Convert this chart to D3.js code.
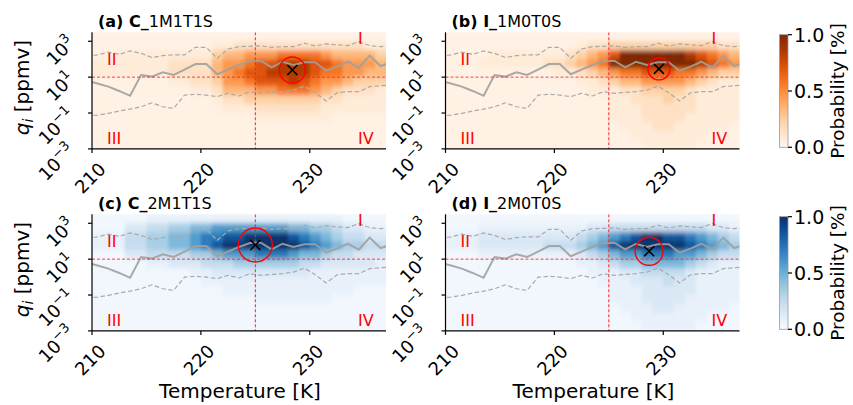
<!DOCTYPE html>
<html>
<head>
<meta charset="utf-8">
<script src="https://cdn.jsdelivr.net/npm/d3@7"></script>
<style>
  body { margin: 0; background: #fff; }
  text { font-family: "DejaVu Sans", sans-serif; }
</style>
</head>
<body>
<div id="chart"></div>
<script>
// temperature bins (K, lower edges, 1 K wide) and log10(q_i) bin edges, top to bottom
var tBins = [210,211,212,213,214,215,216,217,218,219,220,221,222,223,224,225,226,227,228,229,230,231,232,233,234,235,236];
var logQEdges = [3.5,3,2.5,2,1.5,1,0.5,0,-0.5,-1,-1.5,-2,-2.5,-3];

// probability per T column, one digit (0-9) per q row from top to bottom
var probA = [
  "0001100000000","0001100000000","0011100000000","0011100000000","0011100000000",
  "0011100000000","0011100000000","0012210000000","0012210000000","0012221000000",
  "0012221000000","0134432100000","0145554210000","0245654210000","0256764310000",
  "0257775321000","0257875321000","0268876321000","0268886321000","0268876321000",
  "0267765321000","0257654211000","0246653210000","0245542110000","0245532110000",
  "0145432110000","0134431110000"
];
var probB = [
  "0000000000000","0000000000000","0000000000000","0001000000000","0011000000000",
  "0011000000000","0011000000000","0011000000000","0011000000000","0012000000000",
  "0012100000000","0023100000000","0134210000000","0245311000000","0256421000000",
  "0379531111000","0399642111100","0399642211110","0399753222111","0399753222211",
  "0399753322211","0399653222111","0389642221111","0378531111110","0367421111100",
  "0256311111100","0245311111000"
];
var probC = [
  "0011000000000","0011000000000","0011000000000","0233200000000","0233200000000",
  "1344310000000","1344310000000","1455320000000","1455320000000","1566421000000",
  "1577431100000","1678532100000","1689632110000","1689642110000","1699642110000",
  "1699742111000","1699742111000","1699742111000","1589642111000","1578532111000",
  "1467531111000","1456421111000","1345321110000","0234321110000","0234221100000",
  "0123221100000","0123211100000"
];
var probD = [
  "0011000000000","0011000000000","0011000000000","0122100000000","0122100000000",
  "0122100000000","0122100000000","0122100000000","0122100000000","0123100000000",
  "0123100000000","0123100000000","0134210000000","0245311000000","0256421100000",
  "0368531111000","0379642111100","0389642211110","0399753222111","0399753222211",
  "0389753322211","0389653222111","0378642221111","0367531111110","0256421111100",
  "0245311111100","0134311111000"
];

// median and 5/95 percentile lines (log10 q_i) at bin centres
var lineT = [209.5,210.5,211.5,212.5,213.5,214.5,215.5,216.5,217.5,218.5,219.5,220.5,221.5,222.5,223.5,224.5,225.5,226.5,227.5,228.5,229.5,230.5,231.5,232.5,233.5,234.5,235.5,236.5,237.5];
var medLog = [0.80,0.65,0.47,0.23,-0.04,1.12,1.03,1.27,1.12,1.42,1.73,1.73,1.16,1.42,1.68,1.90,1.92,1.55,1.86,1.68,1.83,1.83,1.36,1.59,1.86,1.53,2.20,1.62,1.80];
var upLog = [2.15,2.24,2.39,2.27,2.46,2.33,2.09,2.20,2.24,2.24,2.66,2.66,2.05,2.57,2.70,2.72,2.74,2.66,2.70,2.70,2.89,2.74,2.85,2.80,2.76,2.98,2.76,2.70,2.76];
var lowLog = [-1.15,-1.12,-1.02,-0.89,-0.78,-0.65,-0.43,-0.65,-0.74,0.00,0.04,0.00,-0.09,0.10,-0.05,0.19,0.10,0.15,0.19,0.28,0.50,0.13,-0.33,0.13,0.19,0.19,0.47,0.52,0.56];

// peak markers (T, log10 q) and circle radius
var peakT = [228.4, 229.6, 225.0, 228.7];
var peakLog = [1.40, 1.46, 1.79, 1.44];
var peakR = [13, 11, 17, 14];

var titlesBold = ["(a) C_", "(b) I_", "(c) C_", "(d) I_"];
var titlesRest = ["1M1T1S", "1M0T0S", "2M1T1S", "2M0T0S"];
var xTicks = [210, 220, 230];
var yTicks = [-3, -1, 1, 3];
var cbTicks = [0, 0.5, 1];

var W = 853, H = 405;
var svg = d3.select("#chart").append("svg")
  .attr("width", W).attr("height", H)
  .style("background", "#fff");

var panelW = 294, panelH = 116.6;
var panels = [
  {x: 92, y: 32.3, data: probA, cmap: d3.interpolateOranges},
  {x: 445.5, y: 32.3, data: probB, cmap: d3.interpolateOranges},
  {x: 92, y: 214.3, data: probC, cmap: d3.interpolateBlues},
  {x: 445.5, y: 214.3, data: probD, cmap: d3.interpolateBlues}
];

var defs = svg.append("defs");
// soften the bin edges a bit, like the smoothed image in the original
defs.append("filter").attr("id", "soft")
  .attr("x", "-5%").attr("y", "-5%").attr("width", "110%").attr("height", "110%")
  .append("feGaussianBlur").attr("stdDeviation", "1.6 2.6");

var digitScale = d3.scalePow().exponent(1.4).domain([0, 9]).range([0.03, 1]);

panels.forEach(function(p, pi) {
  var x = d3.scaleLinear().domain([210, 237]).range([0, panelW]);
  var y = d3.scaleLog().domain([Math.pow(10, -3), Math.pow(10, 3.5)]).range([panelH, 0]);
  var color = function(d) { return p.cmap(digitScale(d)); };

  defs.append("clipPath").attr("id", "clip" + pi)
    .append("rect").attr("width", panelW).attr("height", panelH);

  var g = svg.append("g").attr("transform", "translate(" + p.x + "," + p.y + ")");
  var plot = g.append("g").attr("clip-path", "url(#clip" + pi + ")");

  plot.append("rect").attr("width", panelW).attr("height", panelH).attr("fill", color(0));

  // heatmap cells
  var cells = [];
  tBins.forEach(function(t, i) {
    for (var r = 0; r < logQEdges.length - 1; r++) {
      cells.push({t: t, last: i === tBins.length - 1, top: logQEdges[r], bot: logQEdges[r + 1], v: +p.data[i][r]});
    }
  });
  plot.append("g").attr("filter", "url(#soft)")
    .selectAll("rect.cell").data(cells).enter().append("rect")
    .attr("class", "cell")
    .attr("x", function(d) { return x(d.t); })
    .attr("y", function(d) { return y(Math.pow(10, d.top)); })
    .attr("width", function(d) { return x(d.t + (d.last ? 1.6 : 1)) - x(d.t) + 0.5; })
    .attr("height", function(d) { return y(Math.pow(10, d.bot)) - y(Math.pow(10, d.top)) + 0.5; })
    .attr("fill", function(d) { return color(d.v); });

  // gray lines
  var line = function(arr) {
    return d3.line()
      .x(function(d, i) { return x(lineT[i]); })
      .y(function(d) { return y(Math.pow(10, d)); })(arr);
  };
  plot.append("path").attr("d", line(upLog)).attr("fill", "none")
    .attr("stroke", "#aaa").attr("stroke-width", 1.2).attr("stroke-dasharray", "4.5,2.5");
  plot.append("path").attr("d", line(lowLog)).attr("fill", "none")
    .attr("stroke", "#aaa").attr("stroke-width", 1.2).attr("stroke-dasharray", "4.5,2.5");
  plot.append("path").attr("d", line(medLog)).attr("fill", "none")
    .attr("stroke", "#a0a0a0").attr("stroke-width", 2).attr("stroke-opacity", 0.9);

  // red dashed threshold lines
  plot.append("line").attr("x1", x(225)).attr("x2", x(225)).attr("y1", 0).attr("y2", panelH)
    .attr("stroke", "#ff2020").attr("stroke-width", 1).attr("stroke-dasharray", "3,2");
  plot.append("line").attr("x1", 0).attr("x2", panelW).attr("y1", y(10)).attr("y2", y(10))
    .attr("stroke", "#ff2020").attr("stroke-width", 1).attr("stroke-dasharray", "3,2")
    .attr("stroke-opacity", 0.85);

  // peak marker
  var cx = x(peakT[pi]), cy = y(Math.pow(10, peakLog[pi]));
  plot.append("circle").attr("cx", cx).attr("cy", cy).attr("r", peakR[pi])
    .attr("fill", "none").attr("stroke", "#ff0000").attr("stroke-width", 1.4);
  plot.append("path")
    .attr("d", "M" + (cx - 5) + "," + (cy - 5) + "L" + (cx + 5) + "," + (cy + 5) +
               "M" + (cx - 5) + "," + (cy + 5) + "L" + (cx + 5) + "," + (cy - 5))
    .attr("stroke", "#000").attr("stroke-width", 1.6);

  // quadrant labels
  var quad = [["II", 15, 33], ["I", 266, 11.5], ["III", 15, 111.5], ["IV", 266, 111.5]];
  g.selectAll("text.quad").data(quad).enter().append("text")
    .attr("class", "quad")
    .attr("x", function(d) { return d[1]; })
    .attr("y", function(d) { return d[2]; })
    .attr("font-size", 16).attr("fill", "#ff0000")
    .text(function(d) { return d[0]; });

  // axes: left and bottom spines
  g.append("line").attr("x1", 0).attr("x2", 0).attr("y1", 0).attr("y2", panelH)
    .attr("stroke", "#000").attr("stroke-width", 1.2);
  g.append("line").attr("x1", 0).attr("x2", panelW).attr("y1", panelH).attr("y2", panelH)
    .attr("stroke", "#000").attr("stroke-width", 1.2);

  xTicks.forEach(function(t) {
    g.append("line").attr("x1", x(t)).attr("x2", x(t)).attr("y1", panelH).attr("y2", panelH + 4)
      .attr("stroke", "#000").attr("stroke-width", 1.2);
    g.append("text")
      .attr("transform", "translate(" + (x(t) - 2) + "," + (panelH + 29) + ") rotate(-45)")
      .attr("text-anchor", "middle").attr("dominant-baseline", "central")
      .attr("font-size", 18).text(t);
  });
  yTicks.forEach(function(e) {
    var ty = y(Math.pow(10, e));
    g.append("line").attr("x1", -4).attr("x2", 0).attr("y1", ty).attr("y2", ty)
      .attr("stroke", "#000").attr("stroke-width", 1.2);
    var tx = g.append("text")
      .attr("transform", "translate(" + (-16) + "," + (ty + 3) + ") rotate(-45)")
      .attr("text-anchor", "end").attr("font-size", 18);
    tx.append("tspan").text("10");
    tx.append("tspan").attr("dy", -8).attr("font-size", 13)
      .text(e < 0 ? "\u2212" + Math.abs(e) : e);
  });

  // title
  var title = g.append("text").attr("x", 6).attr("y", -5.5).attr("font-size", 16);
  title.append("tspan").attr("font-weight", "bold").text(titlesBold[pi]);
  title.append("tspan").text(titlesRest[pi]);

  // y label on left column
  if (pi % 2 === 0) {
    var yl = svg.append("text")
      .attr("transform", "translate(29," + (p.y + panelH / 2 - 3) + ") rotate(-90)")
      .attr("text-anchor", "middle").attr("font-size", 20);
    yl.append("tspan").attr("font-style", "italic").text("q");
    yl.append("tspan").attr("font-style", "italic").attr("font-size", 14).attr("dy", 4).text("i");
    yl.append("tspan").attr("dy", -4).text(" [ppmv]");
  }
  // x label on bottom row
  if (pi >= 2) {
    svg.append("text").attr("x", p.x + panelW / 2 + 1).attr("y", 398)
      .attr("text-anchor", "middle").attr("font-size", 20).text("Temperature [K]");
  }
});

// colorbars
var cbs = [
  {y: 34.7, cmap: d3.interpolateOranges, id: "cbO"},
  {y: 216.7, cmap: d3.interpolateBlues, id: "cbB"}
];
var cbX = 779.5, cbW = 8.5, cbH = 112.6;
cbs.forEach(function(c) {
  var grad = defs.append("linearGradient").attr("id", c.id)
    .attr("x1", 0).attr("y1", 1).attr("x2", 0).attr("y2", 0);
  d3.range(0, 1.0001, 0.1).forEach(function(s) {
    grad.append("stop").attr("offset", s).attr("stop-color", c.cmap(s));
  });
  var cy = d3.scaleLinear().domain([0, 1]).range([cbH, 0]);
  var g = svg.append("g").attr("transform", "translate(" + cbX + "," + c.y + ")");
  g.append("rect").attr("width", cbW).attr("height", cbH)
    .attr("fill", "url(#" + c.id + ")").attr("stroke", "#999").attr("stroke-width", 0.8);
  cbTicks.forEach(function(v) {
    g.append("line").attr("x1", cbW).attr("x2", cbW + 4).attr("y1", cy(v)).attr("y2", cy(v))
      .attr("stroke", "#000").attr("stroke-width", 1.2);
    g.append("text").attr("x", cbW + 6).attr("y", cy(v)).attr("dy", "0.36em")
      .attr("font-size", 19).text(v.toFixed(1));
  });
  g.append("text")
    .attr("transform", "translate(" + (843.5 - cbX) + "," + (cbH / 2) + ") rotate(-90)")
    .attr("text-anchor", "middle").attr("font-size", 18.5).text("Probability [%]");
});
</script>
</body>
</html>
